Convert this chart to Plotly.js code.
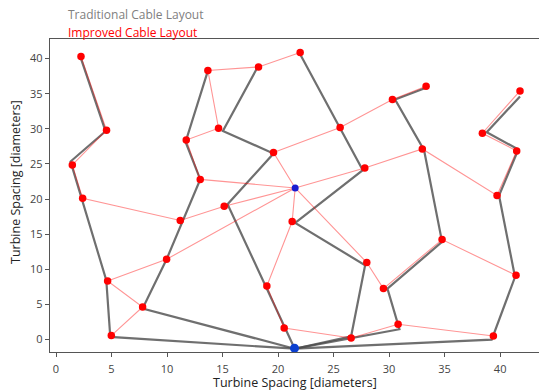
<!DOCTYPE html>
<html>
<head>
<meta charset="utf-8">
<script src="https://cdn.plot.ly/plotly-3.0.1.min.js"></script>
<style>html,body{margin:0;padding:0;background:#fff}#chart{width:539px;height:390px}</style>
</head>
<body>
<div id="chart"></div>
<script>
// Turbine positions (turbine numbers 1..36)
const turbX = [2.25,4.55,1.47,2.40,13.68,18.24,14.64,11.73,12.99,21.99,33.33,30.30,25.59,41.79,38.40,41.49,32.99,27.81,19.59,39.72,11.19,15.15,9.96,4.65,7.80,4.98,18.99,21.27,27.99,34.77,41.43,29.49,30.81,39.39,20.55,26.58];
const turbY = [40.30,29.80,24.85,20.10,38.30,38.80,30.08,28.40,22.80,40.85,36.06,34.16,30.18,35.39,29.37,26.85,27.13,24.43,26.62,20.52,16.94,18.97,11.43,8.34,4.64,0.57,7.63,16.80,10.96,14.23,9.15,7.26,2.18,0.51,1.65,0.23];

// Substations
const subAX = [21.54], subAY = [21.58];   // improved layout substation
const subBX = [21.48], subBY = [-1.24];   // traditional layout substation

// Improved cable strings (turbine numbers, each starting at substation A)
const improvedStrings = [
  [22,21,4,3,2,1],
  [23,24,25,26],
  [9,8,7,5,6,10],
  [19,13,12,11],
  [18,17,20,16,15,14],
  [28,27,35,36,33,34],
  [29,32,30,31]
];

// Traditional cable strings (vertex coordinates, each starting at substation B)
const trad1X = [21.5,4.89,4.53,1.31,4.46,2.25],   trad1Y = [-1.3,0.37,8.44,25.34,29.65,40.0];
const trad2X = [21.5,7.80,9.96,12.99,11.67,13.65], trad2Y = [-1.3,4.41,11.43,22.8,28.13,38.1];
const trad3X = [21.5,15.45,19.59,15.03,18.09],     trad3Y = [-1.3,19.26,26.48,29.7,38.58];
const trad4X = [21.5,26.58,27.84,21.54,27.63,21.99], trad4Y = [-1.3,0.47,10.58,16.6,24.1,40.6];
const trad5X = [21.5,30.93,29.85,34.77,33.15,30.54,33.39], trad5Y = [-1.3,1.47,7.26,13.9,26.95,34.16,35.87];
const trad6X = [21.5,39.24,41.34,39.9,41.64,38.79,41.79], trad6Y = [-1.3,0.0,8.9,20.5,27.05,29.51,34.6];

const xTicks = [0,5,10,15,20,25,30,35,40];
const yTicks = [0,5,10,15,20,25,30,35,40];

// Build line traces
const redX = [], redY = [];
improvedStrings.forEach(s => {
  redX.push(subAX[0]); redY.push(subAY[0]);
  s.forEach(n => { redX.push(turbX[n-1]); redY.push(turbY[n-1]); });
  redX.push(null); redY.push(null);
});
const tradXs = [trad1X,trad2X,trad3X,trad4X,trad5X,trad6X];
const tradYs = [trad1Y,trad2Y,trad3Y,trad4Y,trad5Y,trad6Y];
const greyX = [], greyY = [];
tradXs.forEach((xs,i) => {
  xs.forEach((v,j) => { greyX.push(v); greyY.push(tradYs[i][j]); });
  greyX.push(null); greyY.push(null);
});

const data = [
  {x: greyX, y: greyY, mode: 'lines', type: 'scatter', hoverinfo: 'skip',
   line: {color: 'rgba(75,75,75,0.8)', width: 2.2}},
  {x: redX, y: redY, mode: 'lines', type: 'scatter', hoverinfo: 'skip',
   line: {color: 'rgba(255,0,0,0.42)', width: 1.1}},
  {x: turbX, y: turbY, mode: 'markers', type: 'scatter',
   marker: {color: '#ff0000', size: 7.5}},
  {x: subAX, y: subAY, mode: 'markers', type: 'scatter',
   marker: {color: '#1a1ad0', size: 7}},
  {x: subBX, y: subBY, mode: 'markers', type: 'scatter',
   marker: {color: '#0a3fd0', size: 9}}
];

const FONT = 'Open Sans, Noto Sans, sans-serif';
const tickFont = {family: FONT, size: 11, color: '#444'};
const W = 539, H = 390, ML = 50, MR = 0, MT = 39, MB = 38;
const PW = W - ML - MR, PH = H - MT - MB;
const px2x = p => (p - ML) / PW;
const py2y = p => (H - MB - p) / PH;

const layout = {
  width: W, height: H,
  margin: {l: ML, r: MR, t: MT, b: MB},
  paper_bgcolor: '#fff', plot_bgcolor: '#fff',
  showlegend: false,
  xaxis: {
    range: [-0.54, 43.5], tickvals: xTicks, ticktext: xTicks.map(String),
    showgrid: false, zeroline: false,
    showline: true, mirror: true, linecolor: '#555', linewidth: 1.3,
    ticks: 'outside', ticklen: 4, tickcolor: '#555', tickfont: tickFont,
    ticklabelstandoff: 2
  },
  yaxis: {
    range: [-1.77, 42.78], tickvals: yTicks, ticktext: yTicks.map(String),
    showgrid: false, zeroline: false,
    showline: true, linecolor: '#555', linewidth: 1.3,
    ticks: 'outside', ticklen: 4, tickcolor: '#555', tickfont: tickFont
  },
  annotations: [
    {text: 'Traditional Cable Layout', xref: 'paper', yref: 'paper', x: px2x(66), y: py2y(15),
     xanchor: 'left', yanchor: 'middle', showarrow: false,
     font: {family: FONT, size: 12, color: '#808080'}},
    {text: 'Improved Cable Layout', xref: 'paper', yref: 'paper', x: px2x(66), y: py2y(32),
     xanchor: 'left', yanchor: 'middle', showarrow: false,
     font: {family: FONT, size: 12, color: '#ff0000'}},
    {text: 'Turbine Spacing [diameters]', xref: 'paper', yref: 'paper', x: px2x(295), y: py2y(382),
     xanchor: 'center', yanchor: 'middle', showarrow: false,
     font: {family: FONT, size: 12.5, color: '#222'}},
    {text: 'Turbine Spacing [diameters]', xref: 'paper', yref: 'paper', x: px2x(15), y: py2y(182),
     xanchor: 'center', yanchor: 'middle', showarrow: false, textangle: -90,
     font: {family: FONT, size: 12.5, color: '#222'}}
  ]
};

Plotly.newPlot('chart', data, layout, {displayModeBar: false, staticPlot: true});
</script>
</body>
</html>
